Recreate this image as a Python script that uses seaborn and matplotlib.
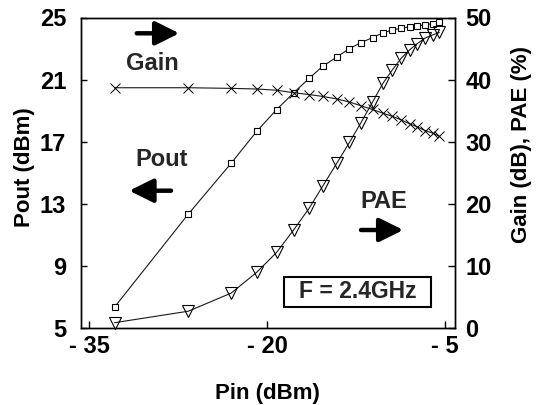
import numpy as np
import pandas as pd
import matplotlib
matplotlib.use("Agg")
import matplotlib.pyplot as plt
import seaborn as sns
from matplotlib.patches import Rectangle

# ---- data ----
pin = [-32.85, -26.63, -23.02, -20.87, -19.19, -17.76, -16.45, -15.29, -14.10, -13.05,
       -12.07, -11.10, -10.23, -9.42, -8.66, -7.97, -7.33, -6.66, -6.02, -5.47]
pout = [6.36, 12.35, 15.62, 17.67, 19.07, 20.15, 21.08, 21.87, 22.46, 23.00,
        23.38, 23.71, 24.01, 24.20, 24.31, 24.40, 24.46, 24.53, 24.61, 24.68]
gain = [38.7, 38.7, 38.6, 38.5, 38.3, 37.9, 37.6, 37.3, 36.9, 36.4,
        35.8, 35.2, 34.6, 34.1, 33.5, 32.9, 32.4, 31.8, 31.4, 30.9]
pae = [0.9, 2.75, 5.66, 9.0, 12.2, 15.8, 19.3, 22.9, 26.6, 29.9,
       33.1, 36.4, 39.4, 41.6, 43.5, 44.8, 45.8, 46.7, 47.2, 47.6]

x_ticks = [-35, -20, -5]
x_tick_labels = ["- 35", "- 20", "- 5"]
left_ticks = [5, 9, 13, 17, 21, 25]
right_ticks = [0, 10, 20, 30, 40, 50]

df = pd.DataFrame({"Pin": pin, "Pout": pout, "Gain": gain, "PAE": pae})

sns.set_theme(style="ticks")
plt.rcParams['font.family'] = ['Liberation Sans', 'DejaVu Sans']
plt.rcParams['font.weight'] = 'bold'
plt.rcParams['axes.labelweight'] = 'bold'

W, H = 542, 405
fig = plt.figure(figsize=(W / 100, H / 100), dpi=100)
ax = fig.add_axes([80.7 / W, 1 - 328.3 / H, (455 - 80.7) / W, (328.3 - 17.5) / H])
ax2 = ax.twinx()

lc = "#1a1a1a"
sns.lineplot(data=df, x="Pin", y="Pout", ax=ax, color=lc, lw=0.8, marker="s",
             markersize=5, markerfacecolor="white", markeredgecolor="black",
             markeredgewidth=0.8, clip_on=False)
sns.lineplot(data=df, x="Pin", y="Gain", ax=ax2, color=lc, lw=0.8, marker="x",
             markersize=7, markeredgecolor="black", markeredgewidth=0.7, clip_on=False)
sns.lineplot(data=df, x="Pin", y="PAE", ax=ax2, color=lc, lw=0.8, marker="v",
             markersize=9, markerfacecolor="none", markeredgecolor="black",
             markeredgewidth=0.8, clip_on=False)

ax.set_xlim(-35.7, -4.15)
ax.set_ylim(5, 25)
ax2.set_ylim(0, 50)
ax.set_xticks(x_ticks)
ax.set_xticklabels(x_tick_labels)
ax.set_yticks(left_ticks)
ax2.set_yticks(right_ticks)

for a in (ax, ax2):
    for s in a.spines.values():
        s.set_color("black")
        s.set_linewidth(1.0)
ax.tick_params(axis="x", direction="in", length=5, width=1, labelsize=17, pad=5, colors="black")
ax.tick_params(axis="y", direction="in", length=4, width=1, labelsize=17, pad=10.5, colors="black")
ax2.tick_params(axis="y", direction="in", length=5, width=1, labelsize=17, pad=7.5, colors="black")
for lab in ax.get_xticklabels() + ax.get_yticklabels() + ax2.get_yticklabels():
    lab.set_fontweight("bold")

ax.set_xlabel("Pin (dBm)", fontsize=16, fontweight="bold", labelpad=18, color="black")
ax.set_ylabel("Pout (dBm)", fontsize=16, fontweight="bold", color="black")
ax.yaxis.set_label_coords(-0.122, 0.52)
ax2.set_ylabel("Gain (dB), PAE (%)", fontsize=16, fontweight="bold", color="black")
ax2.yaxis.set_label_coords(1.1496, 0.59)

# ---- annotations (figure pixel coordinates, origin bottom-left) ----
def arrow(x0, x1, y):
    ax.annotate("", xy=(x1, H - y), xytext=(x0, H - y), xycoords="figure pixels",
                textcoords="figure pixels",
                arrowprops=dict(arrowstyle="-|>,head_length=14.5,head_width=7.2",
                                mutation_scale=1, lw=3.2, color="black",
                                shrinkA=0, shrinkB=0))

arrow(136.7, 179.3, 33.3)
arrow(171.0, 129.3, 190.7)
arrow(361.0, 403.3, 230.0)

fig.text(152.7 / W, 1 - 63.3 / H, "Gain", ha="center", va="center", fontsize=17, fontweight="bold")
fig.text(162.0 / W, 1 - 159.3 / H, "Pout", ha="center", va="center", fontsize=17, fontweight="bold")
fig.text(384.0 / W, 1 - 201.7 / H, "PAE", ha="center", va="center", fontsize=17, fontweight="bold")

fig.add_artist(Rectangle((284 / W, 1 - 306.7 / H), 147 / W, 30 / H, transform=fig.transFigure,
                         facecolor="white", edgecolor="black", lw=1.5, zorder=5))
fig.text(357.5 / W, 1 - 291.7 / H, "F = 2.4GHz", ha="center", va="center", fontsize=16.5,
         fontweight="bold", zorder=6)

fig.savefig("out.png", dpi=100)
